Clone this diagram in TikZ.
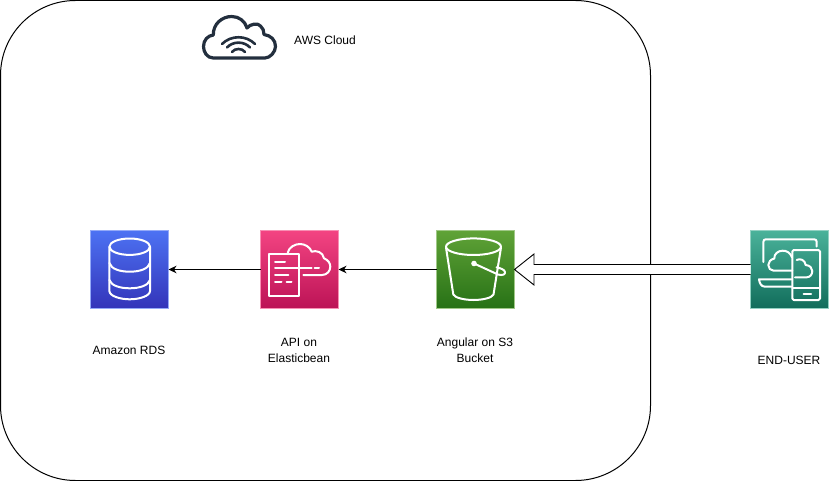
\documentclass[tikz,border=0pt]{standalone}
\usepackage{fontspec}
\setmainfont{Liberation Sans}
\usetikzlibrary{arrows.meta,calc}
\definecolor{awsdark}{HTML}{232F3E}
\tikzset{
  iconbox/.style={rectangle,minimum size=78pt,inner sep=0pt,outer sep=0pt,anchor=north west},
  rdsbox/.style={iconbox,top color=rdsA,bottom color=rdsB,draw=rdsA!60!white,line width=.7pt},
  ebbox/.style={iconbox,top color=ebA,bottom color=ebB,draw=ebA!60!white,line width=.7pt},
  sthreebox/.style={iconbox,top color=sA,bottom color=sB,draw=sA!60!white,line width=.7pt},
  userbox/.style={iconbox,top color=uA,bottom color=uB,draw=uA!60!white,line width=.7pt},
  glyph/.style={draw=white,line width=2pt,line join=round,line cap=round},
  caption/.style={align=center,font=\fontsize{12}{16}\selectfont,text=black,inner sep=0pt},
  flow/.style={draw=black,line width=1pt,-{Stealth[length=8pt,width=7.5pt,inset=2.5pt]}}
}
\definecolor{rdsA}{HTML}{4D72F3}\definecolor{rdsB}{HTML}{3334B9}
\definecolor{ebA}{HTML}{F34482}\definecolor{ebB}{HTML}{BC1356}
\definecolor{sA}{HTML}{60A337}\definecolor{sB}{HTML}{277116}
\definecolor{uA}{HTML}{4AB29A}\definecolor{uB}{HTML}{116D5B}
\begin{document}
\begin{tikzpicture}[x=1pt,y=-1pt]
\useasboundingbox (0,0) rectangle (835,481);
\node[rectangle,draw=black,line width=1pt,rounded corners=75pt,minimum width=650pt,minimum height=480pt,inner sep=0pt,outer sep=0pt,anchor=north west] (cloudbox) at (0.5,0.5) {};

% AWS cloud icon
\draw[draw=awsdark,line width=3.2pt,line join=round,line cap=round]
  (213.3,58) .. controls (207,58) and (203.5,52) .. (203.5,46.5)
  .. controls (203.5,40) and (208,35.5) .. (213.3,35)
  .. controls (213,24) and (222,16.5) .. (231.7,16.5)
  .. controls (239,16.5) and (245,21) .. (247,28)
  .. controls (250,24) and (258,22.5) .. (260.5,26)
  .. controls (263,28) and (264,31) .. (264,34.5)
  .. controls (271,35.5) and (275.5,40) .. (275.5,46.5)
  .. controls (275.5,52) and (270,58) .. (265,58) -- cycle;
\draw[draw=awsdark,line width=2.6pt,line cap=round]
  (222,44) .. controls (231,35) and (246,35) .. (255,44)
  (227,47.5) .. controls (233,41) and (244,41) .. (250,47.5)
  (232,52) .. controls (235,48) and (242,48) .. (245,52);
\node[caption] (awslabel) at (325,40) {AWS Cloud};

% Boxes
\node[rdsbox] (rds) at (90.5,230.5) {};
\node[ebbox] (eb) at (260.5,230.5) {};
\node[sthreebox] (sthree) at (436.5,230.5) {};
\node[userbox] (user) at (750.5,230.5) {};

% RDS glyph
\draw[glyph] (129.7,246.7) ellipse [x radius=20.3,y radius=8.2];
\draw[glyph] (109.4,246.7) -- (109.4,291)
  .. controls (109.4,296) and (120,299.3) .. (129.7,299.3)
  .. controls (139.4,299.3) and (150,296) .. (150,291) -- (150,246.7);
\draw[glyph] (109.4,263) .. controls (111,269) and (120,271.7) .. (129.7,271.7)
  .. controls (139.4,271.7) and (148.4,269) .. (150,263);
\draw[glyph] (109.4,280) .. controls (111,285.5) and (120,288.3) .. (129.7,288.3)
  .. controls (139.4,288.3) and (148.4,285.5) .. (150,280);

% Elastic Beanstalk glyph
\draw[glyph] (269.3,254.3) rectangle (299,296);
\draw[glyph] (275,261.7) -- (285,261.7)
  (275,268.3) -- (311.7,268.3) (314.5,268.3) -- (319,268.3)
  (275,275) -- (288.3,275)
  (275,282.3) -- (281.5,282.3) (286.7,282.3) -- (291.5,282.3);
\draw[glyph] (287.7,252.7) .. controls (289,247) and (295,244) .. (300,244)
  .. controls (305,244) and (310,247) .. (311.7,251.7)
  .. controls (316,250) and (323,252) .. (324,258.3)
  .. controls (328,260) and (330.3,263) .. (330.3,266.7)
  .. controls (330.3,271) and (327,275) .. (322,275) -- (303.3,275);

% S3 glyph
\draw[glyph] (473.5,246.7) ellipse [x radius=27.5,y radius=8.3];
\draw[glyph] (446,247.5) -- (453.3,294.5)
  .. controls (455,298) and (465,300) .. (473.5,300)
  .. controls (482,300) and (492,298) .. (493.5,294.5) -- (501,247.5);
\fill[white] (474,263.5) circle [radius=2.8pt];
\draw[glyph] (474,263.5) -- (498,274.5) .. controls (503,276) and (505.5,274) .. (505,272)
  .. controls (504.5,269.5) and (500,268) .. (496.5,267.3);

% End-user glyph
\draw[glyph] (763.3,262) -- (763.3,242) .. controls (763.3,240) and (764.5,239.3) .. (766,239.3)
  -- (814,239.3) .. controls (815.8,239.3) and (816.7,240.2) .. (816.7,242) -- (816.7,246.5);
\draw[glyph] (791.5,279.3) -- (759,279.3) .. controls (759.5,283) and (761,286.7) .. (765,286.7) -- (791.5,286.7);
\draw[glyph,rounded corners=1.5pt] (792.3,250) rectangle (820,300);
\draw[glyph] (792.3,288.3) -- (820,288.3) (803.5,293.5) -- (811,293.5);
\draw[glyph] (792,257.5) .. controls (790.5,252.5) and (786,250.5) .. (782.7,250.7)
  .. controls (778,250.7) and (774,254) .. (774.3,258.5)
  .. controls (770.5,259.5) and (768.3,262) .. (768.3,265)
  .. controls (768.3,268) and (770.5,270.7) .. (773.5,270.7) -- (792.3,270.7);
\draw[glyph] (796.7,260) .. controls (800,258) and (805,260) .. (805.7,265)
  .. controls (810,265.5) and (812.3,268) .. (812.3,271)
  .. controls (812.3,274.5) and (810,277.3) .. (806.7,277.3) -- (795,277.3);

% Connectors
\draw[flow] (eb.west) -- (rds.east);
\draw[flow] (sthree.west) -- (eb.east);
\draw[draw=black,line width=.9pt,fill=white,line join=miter,miter limit=10]
  ($(user.west)+(0,-5)$) -- ($(sthree.east)+(19.5,-5)$) -- ($(sthree.east)+(19.5,-15.5)$)
  -- (sthree.east) -- ($(sthree.east)+(19.5,15.5)$) -- ($(sthree.east)+(19.5,5)$) -- ($(user.west)+(0,5)$);

% Labels
\node[caption] (rdslabel) at (129,350) {Amazon RDS};
\node[caption] (eblabel) at (299,350) {API on\\Elasticbean};
\node[caption] (slabel) at (475,350) {Angular on S3\\Bucket};
\node[caption] (userlabel) at (789,360) {END-USER};
\end{tikzpicture}
\end{document}
